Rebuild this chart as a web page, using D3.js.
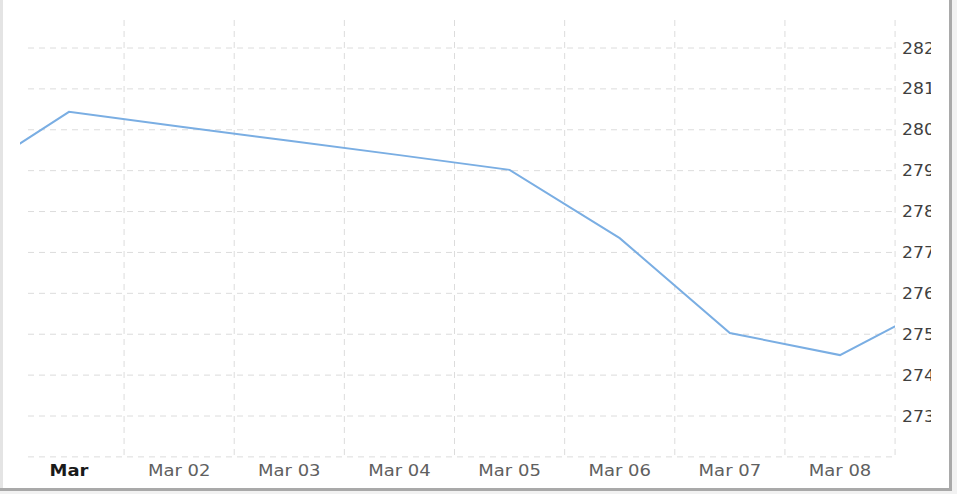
<!DOCTYPE html>
<meta charset="utf-8">
<style>
body { margin: 0; background: #fff; }
svg { display: block; }
.grid line { stroke: #dcdcdc; stroke-width: 1px; stroke-dasharray: 6,5; }
.line { fill: none; stroke: #7aaee3; stroke-width: 2px; }
text { font-family: "DejaVu Sans", sans-serif; font-size: 15px; }
</style>
<body>
<script src="https://d3js.org/d3.v7.min.js"></script>
<script>

// data
var dates = ["2024-02-29", "2024-03-01", "2024-03-02", "2024-03-03", "2024-03-04",
             "2024-03-05", "2024-03-06", "2024-03-07", "2024-03-08", "2024-03-09"];
var values = [278.7, 280.44, 280.08, 279.73, 279.38, 279.02, 277.35, 275.03, 274.49, 275.89];
var xTickDates = ["2024-03-01", "2024-03-02", "2024-03-03", "2024-03-04",
                  "2024-03-05", "2024-03-06", "2024-03-07", "2024-03-08"];
var xTickLabels = ["Mar", "Mar 02", "Mar 03", "Mar 04", "Mar 05", "Mar 06", "Mar 07", "Mar 08"];
var yTicks = [273, 274, 275, 276, 277, 278, 279, 280, 281, 282];

var W = 957, H = 494;
var parse = d3.utcParse("%Y-%m-%d");
var data = dates.map(function(d, i) { return {date: parse(d), value: values[i]}; });

// plot area
var plot = {left: 20, right: 895, top: 20, bottom: 456};

var x = d3.scaleUtc()
    .domain([parse("2024-03-01"), parse("2024-03-08")])
    .range([69, 840]);
var y = d3.scaleLinear().domain([273, 282]).range([416, 48]);

var svg = d3.select("body").append("svg")
    .attr("width", W)
    .attr("height", H);

// frame of the screenshot
svg.append("rect").attr("x", 0).attr("y", 0).attr("width", 3).attr("height", 490).attr("fill", "#e4e4e4");
svg.append("rect").attr("x", 949).attr("y", 0).attr("width", 3).attr("height", 492).attr("fill", "#a9a9a9");
svg.append("rect").attr("x", 0).attr("y", 488).attr("width", 952).attr("height", 3).attr("fill", "#a9a9a9");
svg.append("rect").attr("x", 952).attr("y", 0).attr("width", 5).attr("height", H).attr("fill", "#f2f2f2");
svg.append("rect").attr("x", 0).attr("y", 491).attr("width", W).attr("height", 3).attr("fill", "#f2f2f2");

svg.append("clipPath").attr("id", "plotclip")
  .append("rect")
    .attr("x", plot.left).attr("y", plot.top)
    .attr("width", plot.right - plot.left).attr("height", plot.bottom - plot.top);

// vertical grid at half days
var vgrid = xTickDates.map(function(d) { return d3.utcHour.offset(parse(d), 12); });
svg.append("g").attr("class", "grid")
  .selectAll("line").data(vgrid).enter().append("line")
    .attr("x1", function(d) { return x(d); })
    .attr("x2", function(d) { return x(d); })
    .attr("y1", plot.top).attr("y2", plot.bottom);

// horizontal grid
svg.append("g").attr("class", "grid")
  .selectAll("line").data(yTicks.concat([272])).enter().append("line")
    .attr("x1", 28).attr("x2", plot.right)
    .attr("y1", function(d) { return y(d); })
    .attr("y2", function(d) { return y(d); });

// the line
var valueline = d3.line()
    .x(function(d) { return x(d.date); })
    .y(function(d) { return y(d.value); });

svg.append("path")
    .datum(data)
    .attr("class", "line")
    .attr("clip-path", "url(#plotclip)")
    .attr("d", valueline);

// x labels
svg.append("g")
  .selectAll("text").data(xTickDates).enter().append("text")
    .attr("transform", function(d) { return "translate(" + x(parse(d)) + ",476) scale(1.2,1)"; })
    .attr("text-anchor", "middle")
    .attr("fill", function(d, i) { return i === 0 ? "#1a1a1a" : "#606060"; })
    .attr("font-weight", function(d, i) { return i === 0 ? "bold" : "normal"; })
    .text(function(d, i) { return xTickLabels[i]; });

// y labels, cut at the right like the screenshot
svg.append("clipPath").attr("id", "ylab")
  .append("rect").attr("x", 895).attr("y", 0).attr("width", 36).attr("height", H);

svg.append("g").attr("clip-path", "url(#ylab)")
  .selectAll("text").data(yTicks).enter().append("text")
    .attr("transform", function(d) { return "translate(902," + (y(d) + 5.5) + ") scale(1.15,1)"; })
    .attr("fill", "#404040")
    .text(function(d) { return d; });

</script>
</body>
